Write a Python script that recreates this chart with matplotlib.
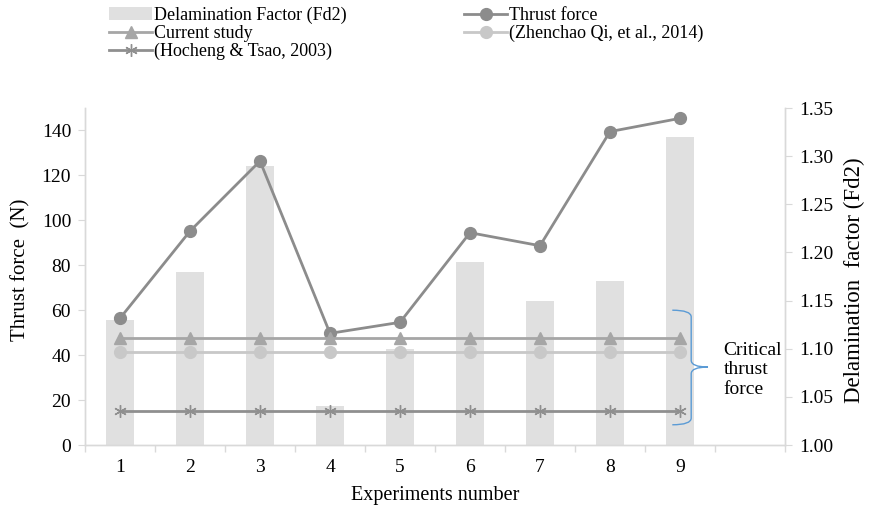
import matplotlib
matplotlib.use("Agg")
import matplotlib.pyplot as plt
from matplotlib.path import Path
from matplotlib.patches import PathPatch
import numpy as np

plt.rcParams['font.family'] = ['Liberation Serif', 'DejaVu Serif']

experiments = [1, 2, 3, 4, 5, 6, 7, 8, 9]
delamination_fd2 = [1.13, 1.18, 1.29, 1.04, 1.10, 1.19, 1.15, 1.17, 1.32]
thrust_force = [56.4, 95.2, 126.4, 49.7, 54.6, 94.5, 88.7, 139.5, 145.4]
current_study = [47.5] * 9
zhenchao_qi = [41.5] * 9
hocheng_tsao = [15.1] * 9

left_ticks = [0, 20, 40, 60, 80, 100, 120, 140]
right_ticks = [1.00, 1.05, 1.10, 1.15, 1.20, 1.25, 1.30, 1.35]

axis_grey = '#d9d9d9'

fig = plt.figure(figsize=(8.74, 5.15), dpi=100)
ax = fig.add_axes([85 / 874, 1 - 445 / 515, 700 / 874, 337 / 515])
ax2 = ax.twinx()

# bars on the secondary axis, drawn behind the lines
ax.set_zorder(2)
ax.patch.set_visible(False)
ax2.set_zorder(1)

x = np.array(experiments)
bars = ax2.bar(x, [d - 1.0 for d in delamination_fd2], bottom=1.0, width=0.4,
               color='#e0e0e0', label='Delamination Factor (Fd2)')
ax2.set_ylim(1.0, 1.35)
ax2.set_yticks(right_ticks)
ax2.set_yticklabels([f'{t:.2f}' for t in right_ticks])

l_thrust, = ax.plot(x, thrust_force, color='#8c8c8c', lw=2.0, marker='o', ms=8.5,
                    label='Thrust force')
l_current, = ax.plot(x, current_study, color='#a6a6a6', lw=2.0, marker='^', ms=8.5,
                     label='Current study')
l_zhen, = ax.plot(x, zhenchao_qi, color='#c8c8c8', lw=2.0, marker='o', ms=8.5,
                  label='(Zhenchao Qi, et al., 2014)')
l_hoch, = ax.plot(x, hocheng_tsao, color='#8f8f8f', lw=2.0, marker=(6, 2, 0), ms=9,
                  mew=1.0, label='(Hocheng & Tsao, 2003)')

ax.set_xlim(0.5, 10.5)
ax.set_ylim(0, 150)
ax.set_yticks(left_ticks)
ax.set_xticks(experiments)
ax.set_xticklabels([str(e) for e in experiments])
ax.set_xticks(np.arange(0.5, 11, 1.0), minor=True)
ax.tick_params(axis='x', which='major', length=0, labelsize=14, pad=10)
ax.tick_params(axis='x', which='minor', length=5, color=axis_grey, width=1)
ax.tick_params(axis='y', length=5, color=axis_grey, labelsize=14, pad=5)
ax2.tick_params(axis='y', length=5, color=axis_grey, labelsize=14, pad=5)

for a in (ax, ax2):
    a.spines['top'].set_visible(False)
    for s in ('left', 'right', 'bottom'):
        a.spines[s].set_color(axis_grey)
        a.spines[s].set_linewidth(1.0)

ax.set_ylabel('Thrust force  (N)', fontsize=15)
ax2.set_ylabel('Delamination  factor (Fd2)', fontsize=16.5)
ax.set_xlabel('Experiments number', fontsize=14.5)
ax.yaxis.set_label_coords(-55 / 700, 0.52)
ax2.yaxis.set_label_coords(1 + 59 / 700, 0.49)
ax.xaxis.set_label_coords(0.5, -41 / 337)

# curly brace grouping the critical thrust force lines
bx0, bx1, bx2 = 8.89, 9.16, 9.40
ytop, ybot, ymid = 60.0, 9.0, 34.7
verts = [(bx0, ytop), (bx1, ytop), (bx1, ytop - 3),
         (bx1, ymid + 3), (bx1, ymid), (bx2, ymid),
         (bx1, ymid), (bx1, ymid - 3),
         (bx1, ybot + 3), (bx1, ybot), (bx0, ybot)]
codes = [Path.MOVETO, Path.CURVE3, Path.CURVE3,
         Path.LINETO, Path.CURVE3, Path.CURVE3,
         Path.CURVE3, Path.CURVE3,
         Path.LINETO, Path.CURVE3, Path.CURVE3]
ax.add_patch(PathPatch(Path(verts, codes), fill=False, edgecolor='#5b9bd5',
                       lw=1.0, clip_on=False))
ax.text(9.62, 33.4, 'Critical\nthrust\nforce', fontsize=14, va='center', ha='left',
        linespacing=1.2)

handles = [bars, l_current, l_hoch, l_thrust, l_zhen]
labels = [h.get_label() for h in handles]
fig.legend(handles, labels, ncol=2, loc='upper left', bbox_to_anchor=(98 / 874, 1.008),
           frameon=False, fontsize=13, handlelength=2.4, handletextpad=0.1,
           columnspacing=6.5, labelspacing=0.05, borderaxespad=0.2)

fig.savefig('out.png', dpi=100)
